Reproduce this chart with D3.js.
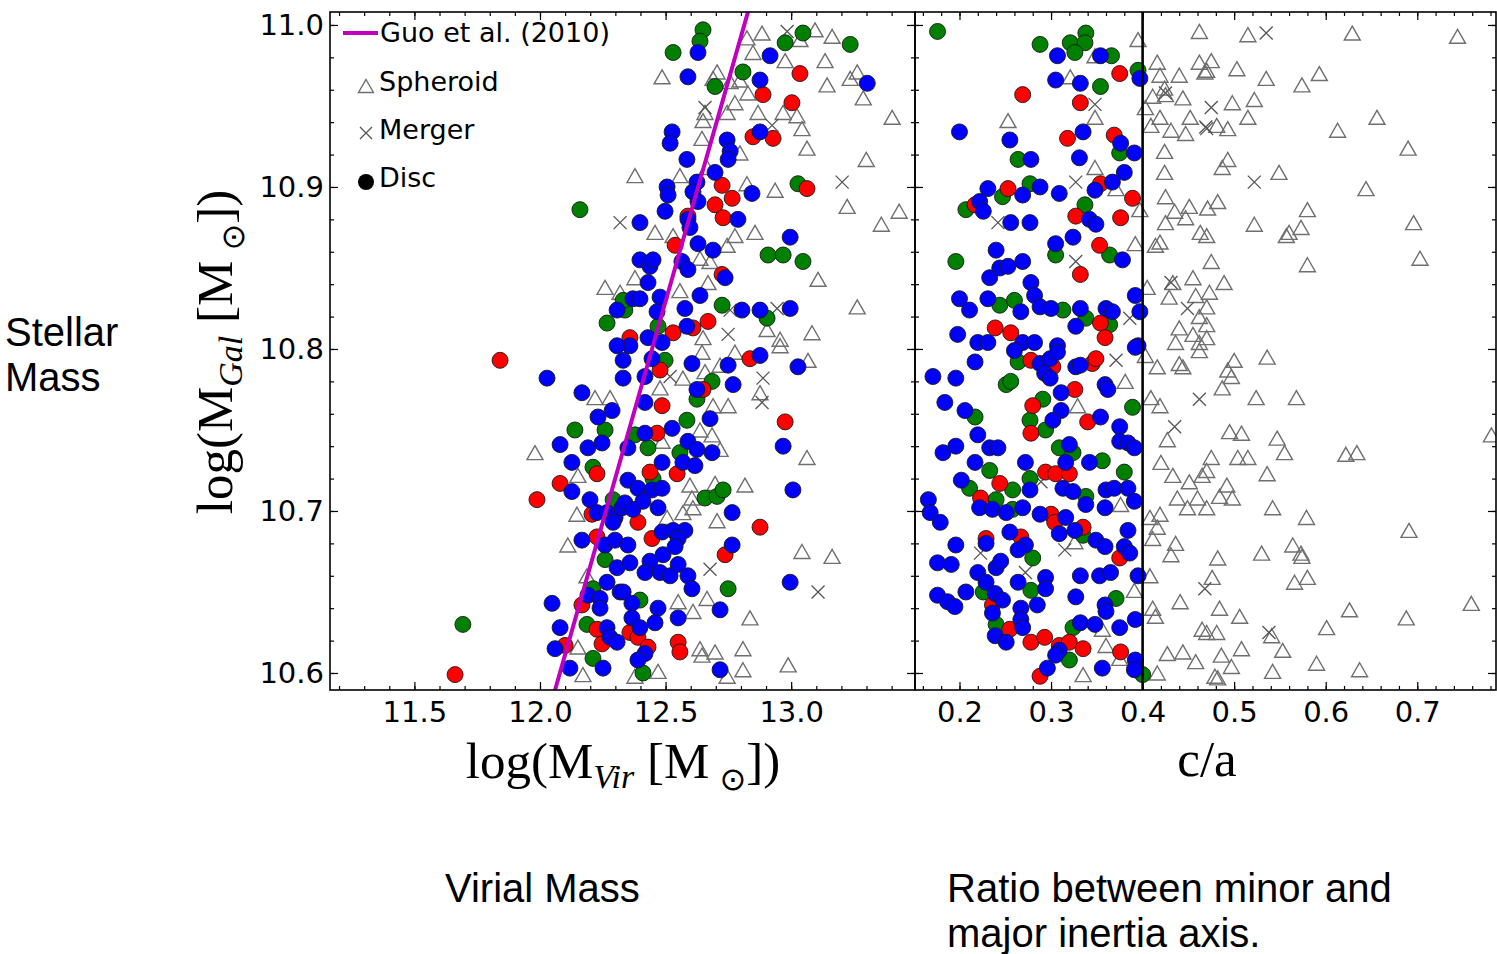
<!DOCTYPE html>
<html>
<head>
<meta charset="utf-8">
<script src="https://cdn.jsdelivr.net/npm/d3@7"></script>
<style>
  html, body { margin: 0; padding: 0; background: #fff; }
  svg { display: block; }
  .tick text { font-family: "DejaVu Sans", sans-serif; font-size: 29px; fill: #000; }
  .tick line { stroke: #000; stroke-width: 1.2; }
</style>
</head>
<body>
<svg id="chart" width="1497" height="954"></svg>
<script>
// ---------------- data ----------------
// tick labels
const mvirTicks = [11.5, 12.0, 12.5, 13.0];
const caTicks = [0.2, 0.3, 0.4, 0.5, 0.6, 0.7];
const mgalTicks = [10.6, 10.7, 10.8, 10.9, 11.0];
// disc / spheroid threshold in c/a
const caCut = 0.4;
// Guo et al. (2010) relation, log Mvir -> log Mgal
const guoMvir = [12.04, 12.446, 12.85];
const guoMgal = [10.5786, 10.80, 11.020];

// left panel: [log Mvir, log Mgal]
const virDiscGreen = [[12.649,10.997],[12.637,10.990],[12.530,10.983],[13.047,10.995],[12.976,10.989],[13.235,10.988],[12.808,10.971],[12.697,10.962],[13.027,10.902],[12.908,10.858],[12.968,10.858],[13.047,10.854],[12.725,10.827],[12.904,10.819],[12.470,10.814],[12.338,10.824],[12.159,10.886],[12.331,10.830],[12.267,10.816],[12.139,10.750],[12.259,10.750],[12.211,10.727],[12.291,10.707],[12.259,10.670],[12.211,10.652],[12.187,10.630],[11.693,10.630],[12.211,10.609],[12.498,10.793],[12.685,10.780],[12.625,10.769],[12.585,10.756],[12.378,10.747],[12.430,10.739],[12.557,10.736],[12.450,10.720],[12.657,10.708],[12.705,10.709],[12.729,10.713],[12.749,10.652],[12.398,10.645],[12.410,10.600]];
const virDiscRed = [[13.035,10.970],[12.888,10.957],[13.003,10.952],[12.848,10.931],[12.928,10.930],[13.063,10.899],[12.725,10.901],[12.765,10.893],[12.697,10.889],[12.729,10.881],[12.589,10.882],[12.538,10.864],[12.725,10.846],[12.669,10.817],[12.530,10.810],[12.609,10.813],[12.358,10.807],[11.841,10.793],[12.227,10.723],[12.080,10.717],[11.988,10.707],[12.207,10.698],[12.227,10.684],[12.167,10.642],[12.227,10.627],[12.247,10.618],[12.100,10.617],[11.662,10.599],[12.836,10.794],[12.478,10.787],[12.649,10.775],[12.486,10.765],[12.976,10.755],[12.466,10.748],[12.438,10.724],[12.546,10.723],[12.390,10.693],[12.446,10.683],[12.876,10.690],[12.737,10.673],[12.358,10.625],[12.390,10.622],[12.430,10.616],[12.550,10.619],[12.557,10.613]];
const virDiscBlue = [[12.629,10.983],[12.589,10.968],[12.916,10.981],[12.876,10.966],[13.303,10.964],[12.526,10.934],[12.518,10.927],[12.745,10.929],[12.757,10.922],[12.749,10.917],[12.876,10.934],[12.585,10.917],[12.697,10.909],[12.506,10.900],[12.510,10.895],[12.625,10.903],[12.609,10.897],[12.629,10.891],[12.844,10.896],[12.498,10.885],[12.398,10.878],[12.589,10.880],[12.597,10.875],[12.788,10.880],[12.996,10.869],[12.629,10.865],[12.689,10.861],[12.398,10.855],[12.438,10.851],[12.450,10.855],[12.565,10.854],[12.589,10.849],[12.737,10.844],[12.430,10.841],[12.637,10.833],[12.370,10.831],[12.398,10.831],[12.478,10.832],[12.466,10.823],[12.577,10.825],[12.804,10.824],[12.876,10.824],[12.996,10.825],[12.585,10.814],[12.486,10.804],[12.430,10.807],[12.358,10.802],[12.307,10.824],[12.307,10.802],[12.331,10.793],
  [12.028,10.782],[12.167,10.773],[12.287,10.762],[12.231,10.758],[12.080,10.741],[12.191,10.739],[12.247,10.742],[12.127,10.730],[12.127,10.712],[12.199,10.707],[12.227,10.699],[12.267,10.699],[12.299,10.696],[12.327,10.702],[12.291,10.693],[12.167,10.682],[12.259,10.679],[12.299,10.682],[12.307,10.665],[12.267,10.656],[12.319,10.650],[12.191,10.648],[12.239,10.646],[12.239,10.640],[12.048,10.643],[12.267,10.628],[12.279,10.622],[12.307,10.619],[12.080,10.628],[12.060,10.615],[12.119,10.603],[12.251,10.603],
  [12.876,10.796],[13.027,10.789],[12.749,10.790],[12.769,10.778],[12.605,10.791],[12.446,10.794],[12.331,10.782],[12.418,10.783],[12.625,10.775],[12.418,10.767],[12.968,10.740],[12.677,10.757],[12.526,10.751],[12.418,10.748],[12.350,10.739],[12.589,10.743],[12.625,10.738],[12.685,10.736],[12.486,10.730],[12.569,10.730],[12.617,10.728],[12.350,10.719],[12.390,10.714],[12.446,10.713],[12.486,10.714],[12.338,10.705],[12.370,10.701],[12.410,10.706],[12.470,10.702],[12.765,10.699],[13.007,10.713],[12.486,10.687],[12.530,10.688],[12.577,10.688],[12.550,10.683],[12.350,10.679],[12.490,10.673],[12.538,10.678],[12.765,10.679],[12.358,10.668],[12.438,10.669],[12.478,10.662],[12.418,10.662],[12.518,10.660],[12.550,10.667],[12.589,10.660],[12.605,10.652],[12.996,10.656],[12.331,10.650],[12.366,10.643],[12.470,10.640],[12.550,10.634],[12.717,10.639],[12.366,10.634],[12.398,10.628],[12.458,10.631],[12.418,10.612],[12.390,10.608],[12.717,10.602]];
const virSpheroid = [[12.884,10.995],[12.824,10.992],[13.095,10.997],[13.163,10.993],[13.035,10.991],[12.848,10.983],[12.976,10.978],[13.135,10.978],[12.486,10.968],[12.705,10.971],[12.689,10.967],[12.757,10.965],[12.796,10.966],[13.235,10.967],[13.263,10.971],[13.143,10.963],[13.287,10.955],[12.828,10.958],[12.776,10.952],[12.745,10.946],[12.657,10.946],[12.649,10.941],[12.868,10.946],[12.968,10.946],[13.023,10.944],[13.043,10.936],[13.063,10.924],[13.402,10.943],[13.299,10.917],[12.645,10.930],[12.796,10.921],[12.378,10.907],[12.557,10.907],[12.665,10.912],[12.936,10.898],[12.824,10.902],[13.223,10.888],[13.430,10.885],[13.359,10.877],[12.458,10.872],[12.530,10.870],[12.856,10.872],[12.776,10.870],[12.745,10.864],[12.637,10.856],[12.677,10.854],[13.107,10.843],[12.378,10.844],[12.557,10.836],[12.669,10.841],[13.263,10.826],[13.083,10.810],[12.956,10.806],[12.904,10.812],[12.649,10.807],
  [12.259,10.838],[12.319,10.835],[12.219,10.770],[12.279,10.770],[11.980,10.736],[12.151,10.722],[12.147,10.698],[12.111,10.679],[12.187,10.660],[12.151,10.616],[12.171,10.599],
  [12.956,10.802],[13.067,10.793],[12.776,10.798],[12.645,10.798],[12.717,10.790],[12.657,10.786],[12.569,10.782],[12.478,10.776],[12.876,10.773],[12.689,10.765],[12.749,10.765],[13.063,10.733],[12.486,10.743],[12.637,10.750],[12.717,10.738],[12.685,10.747],[12.597,10.716],[12.605,10.708],[12.609,10.702],[12.697,10.717],[12.816,10.716],[12.705,10.694],[12.506,10.696],[12.569,10.699],[13.043,10.675],[13.163,10.672],[12.550,10.644],[12.665,10.646],[12.609,10.638],[12.836,10.634],[12.637,10.615],[12.697,10.613],[12.645,10.611],[12.808,10.615],[12.470,10.601],[12.808,10.602],[12.988,10.605],[12.378,10.598],[12.745,10.598]];
const virMerger = [[12.984,10.996],[12.657,10.949],[12.924,10.938],[13.203,10.903],[12.319,10.878],[12.944,10.825],[12.757,10.824],[12.749,10.809],[12.518,10.783],[12.888,10.782],[12.884,10.767],[12.677,10.664],[13.107,10.650]];

// right panel: [c/a, log Mgal]
const caDiscGreen = [[0.176,10.996],[0.288,10.988],[0.321,10.989],[0.338,10.995],[0.337,10.989],[0.326,10.983],[0.366,10.981],[0.395,10.972],[0.354,10.962],[0.375,10.921],[0.264,10.917],[0.277,10.902],[0.247,10.894],[0.207,10.886],[0.337,10.889],[0.196,10.854],[0.305,10.858],[0.364,10.858],[0.244,10.827],[0.260,10.830],[0.313,10.824],[0.338,10.819],[0.364,10.815],
  [0.264,10.792],[0.251,10.778],[0.256,10.780],[0.217,10.758],[0.291,10.769],[0.389,10.764],[0.277,10.756],[0.294,10.750],[0.309,10.739],[0.324,10.736],[0.356,10.731],[0.233,10.725],[0.380,10.724],[0.211,10.714],[0.258,10.713],[0.277,10.720],[0.338,10.709],[0.240,10.707],[0.258,10.701],[0.335,10.685],[0.280,10.671],[0.278,10.651],[0.226,10.650],[0.371,10.646],[0.240,10.630],[0.324,10.628],[0.320,10.608],[0.400,10.599]];
const caDiscRed = [[0.375,10.970],[0.269,10.957],[0.332,10.952],[0.318,10.930],[0.369,10.932],[0.354,10.902],[0.253,10.899],[0.389,10.893],[0.217,10.889],[0.327,10.882],[0.376,10.881],[0.353,10.864],[0.332,10.846],[0.354,10.816],[0.359,10.807],[0.239,10.813],[0.256,10.810],
  [0.278,10.793],[0.302,10.789],[0.345,10.791],[0.349,10.794],[0.326,10.775],[0.280,10.765],[0.340,10.755],[0.278,10.748],[0.294,10.724],[0.305,10.723],[0.320,10.723],[0.244,10.717],[0.223,10.708],[0.300,10.698],[0.304,10.693],[0.335,10.690],[0.267,10.684],[0.229,10.683],[0.375,10.671],[0.236,10.642],[0.255,10.627],[0.278,10.619],[0.293,10.622],[0.309,10.617],[0.320,10.619],[0.335,10.615],[0.376,10.613],[0.288,10.598]];
const caDiscBlue = [[0.307,10.981],[0.354,10.981],[0.397,10.967],[0.305,10.966],[0.332,10.964],[0.200,10.934],[0.255,10.929],[0.335,10.934],[0.376,10.927],[0.391,10.921],[0.278,10.917],[0.331,10.918],[0.380,10.909],[0.367,10.903],[0.231,10.899],[0.269,10.895],[0.288,10.900],[0.309,10.896],[0.348,10.898],[0.222,10.891],[0.226,10.885],[0.256,10.878],[0.277,10.878],[0.342,10.880],[0.349,10.877],[0.240,10.861],[0.233,10.844],[0.244,10.850],[0.253,10.851],[0.269,10.854],[0.305,10.865],[0.324,10.869],[0.378,10.855],[0.278,10.841],[0.282,10.833],[0.200,10.831],[0.211,10.824],[0.231,10.831],[0.267,10.823],[0.288,10.826],[0.300,10.825],[0.332,10.825],[0.360,10.825],[0.367,10.823],[0.392,10.833],[0.397,10.823],[0.327,10.814],[0.198,10.809],[0.220,10.804],[0.231,10.804],[0.269,10.804],[0.282,10.804],[0.307,10.802],[0.395,10.802],
  [0.171,10.783],[0.196,10.782],[0.217,10.792],[0.260,10.799],[0.288,10.791],[0.299,10.794],[0.307,10.798],[0.327,10.789],[0.332,10.790],[0.392,10.801],[0.293,10.785],[0.299,10.782],[0.311,10.773],[0.359,10.778],[0.362,10.775],[0.184,10.767],[0.206,10.762],[0.311,10.762],[0.302,10.756],[0.354,10.758],[0.375,10.752],[0.375,10.743],[0.384,10.742],[0.391,10.739],[0.220,10.747],[0.182,10.736],[0.196,10.740],[0.233,10.739],[0.242,10.739],[0.320,10.741],[0.272,10.730],[0.316,10.730],[0.342,10.730],[0.217,10.730],[0.202,10.719],[0.277,10.713],[0.313,10.714],[0.324,10.712],[0.338,10.704],[0.360,10.713],[0.369,10.714],[0.384,10.714],[0.391,10.706],[0.166,10.707],[0.168,10.699],[0.179,10.693],[0.222,10.702],[0.236,10.701],[0.251,10.699],[0.269,10.702],[0.288,10.698],[0.316,10.696],[0.359,10.702],
  [0.309,10.686],[0.326,10.688],[0.349,10.682],[0.359,10.678],[0.384,10.688],[0.255,10.687],[0.272,10.679],[0.264,10.676],[0.229,10.680],[0.196,10.679],[0.380,10.678],[0.386,10.674],[0.176,10.668],[0.191,10.667],[0.240,10.665],[0.245,10.669],[0.220,10.662],[0.229,10.656],[0.264,10.656],[0.294,10.659],[0.294,10.652],[0.332,10.660],[0.353,10.660],[0.365,10.662],[0.395,10.660],[0.176,10.648],[0.187,10.644],[0.195,10.641],[0.207,10.650],[0.239,10.649],[0.247,10.645],[0.236,10.637],[0.267,10.640],[0.285,10.642],[0.327,10.647],[0.359,10.642],[0.360,10.638],[0.267,10.633],[0.269,10.628],[0.239,10.623],[0.251,10.619],[0.332,10.631],[0.348,10.630],[0.375,10.628],[0.392,10.633],[0.309,10.614],[0.305,10.611],[0.392,10.608],[0.391,10.602],[0.296,10.603],[0.356,10.603]];
const caSpheroid = [[0.348,10.981],[0.395,10.991],[0.321,10.968],[0.348,10.943],[0.253,10.941],[0.348,10.912],[0.371,10.899],[0.397,10.886],[0.392,10.865],[0.381,10.780],[0.329,10.765],[0.376,10.704],[0.326,10.681],[0.391,10.651],[0.356,10.627],[0.360,10.617],[0.375,10.609],[0.335,10.599],
  [0.416,10.977],[0.419,10.969],[0.440,10.969],[0.424,10.961],[0.411,10.956],[0.425,10.957],[0.444,10.955],[0.403,10.949],[0.419,10.943],[0.431,10.935],[0.447,10.933],[0.452,10.943],[0.409,10.938],[0.462,10.977],[0.462,10.996],[0.468,10.971],[0.424,10.922],[0.424,10.909],[0.425,10.894],[0.435,10.885],[0.425,10.878],[0.447,10.881],[0.451,10.888],[0.463,10.872],[0.414,10.864],[0.419,10.866],[0.405,10.838],[0.433,10.841],[0.455,10.844],[0.429,10.832],[0.458,10.833],[0.462,10.820],[0.440,10.813],[0.455,10.809],[0.436,10.804],[0.462,10.804],
  [0.515,10.994],[0.629,10.995],[0.744,10.993],[0.475,10.978],[0.470,10.972],[0.503,10.973],[0.535,10.967],[0.574,10.963],[0.593,10.970],[0.498,10.952],[0.522,10.954],[0.515,10.943],[0.481,10.938],[0.493,10.936],[0.656,10.943],[0.613,10.935],[0.690,10.924],[0.493,10.917],[0.487,10.912],[0.549,10.909],[0.644,10.899],[0.482,10.891],[0.471,10.887],[0.580,10.886],[0.522,10.877],[0.573,10.875],[0.557,10.870],[0.560,10.872],[0.696,10.878],[0.470,10.870],[0.475,10.854],[0.580,10.852],[0.703,10.856],[0.489,10.841],[0.473,10.835],[0.470,10.826],[0.470,10.815],[0.470,10.807],
  [0.403,10.796],[0.416,10.789],[0.440,10.791],[0.444,10.789],[0.462,10.799],[0.409,10.770],[0.419,10.765],[0.427,10.744],[0.420,10.730],[0.433,10.722],[0.451,10.718],[0.465,10.722],[0.438,10.708],[0.449,10.702],[0.460,10.708],[0.408,10.696],[0.419,10.698],[0.416,10.690],[0.411,10.683],[0.431,10.673],[0.436,10.680],[0.408,10.660],[0.441,10.644],[0.411,10.640],[0.414,10.635],[0.465,10.627],[0.427,10.612],[0.444,10.613],[0.458,10.607],[0.416,10.600],
  [0.500,10.793],[0.536,10.795],[0.493,10.787],[0.497,10.783],[0.487,10.776],[0.524,10.770],[0.568,10.770],[0.495,10.749],[0.508,10.748],[0.547,10.745],[0.555,10.736],[0.475,10.733],[0.504,10.733],[0.515,10.733],[0.622,10.735],[0.634,10.736],[0.781,10.747],[0.470,10.725],[0.536,10.723],[0.492,10.716],[0.484,10.709],[0.498,10.708],[0.470,10.702],[0.542,10.702],[0.579,10.696],[0.691,10.688],[0.482,10.671],[0.530,10.674],[0.564,10.679],[0.573,10.674],[0.574,10.672],[0.476,10.659],[0.566,10.656],[0.580,10.659],[0.484,10.640],[0.506,10.635],[0.626,10.639],[0.688,10.634],[0.759,10.643],[0.470,10.625],[0.481,10.625],[0.541,10.623],[0.601,10.628],[0.486,10.611],[0.508,10.615],[0.553,10.614],[0.497,10.604],[0.590,10.606],[0.479,10.598],[0.482,10.597],[0.542,10.601],[0.637,10.602]];
const caMerger = [[0.348,10.951],[0.327,10.903],[0.242,10.878],[0.327,10.854],[0.386,10.819],[0.371,10.793],[0.289,10.718],[0.315,10.676],[0.223,10.674],[0.272,10.662],[0.535,10.995],[0.475,10.949],[0.470,10.936],[0.522,10.903],[0.425,10.958],[0.469,10.937],[0.431,10.841],[0.449,10.825],[0.462,10.769],[0.435,10.752],[0.468,10.652],[0.538,10.625]];

// ---------------- layout ----------------
const W = 1497, H = 954;
const plotTop = 12, plotBottom = 690;
const leftX0 = 330, midX = 915, rightX1 = 1496;
const colBlue = "#0000ff", colRed = "#ff0000", colGreen = "#008000", colGuo = "#bf00bf";

const svg = d3.select("#chart");
svg.append("rect").attr("width", W).attr("height", H).attr("fill", "#fff");

const y = d3.scaleLinear().domain([10.5895, 11.008]).range([plotBottom, plotTop]);
const xVir = d3.scaleLinear().domain([11.164, 13.493]).range([leftX0, midX]);
const xCa = d3.scaleLinear().domain([0.1514, 0.786]).range([midX, rightX1]);

const defs = svg.append("defs");
defs.append("clipPath").attr("id", "clipL").append("rect")
  .attr("x", leftX0).attr("y", plotTop).attr("width", midX - leftX0).attr("height", plotBottom - plotTop);
defs.append("clipPath").attr("id", "clipR").append("rect")
  .attr("x", midX).attr("y", plotTop).attr("width", rightX1 - midX).attr("height", plotBottom - plotTop);

const triPath = "M0,-7L8,7L-8,7Z";
const crossPath = "M-6.5,-6.5L6.5,6.5M-6.5,6.5L6.5,-6.5";

function drawPoints(g, xs, spheroid, merger, green, red, blue) {
  g.selectAll("path.sph").data(spheroid).join("path").attr("class", "sph")
    .attr("transform", d => `translate(${xs(d[0])},${y(d[1])})`)
    .attr("d", triPath).attr("fill", "none").attr("stroke", "#6f6f6f").attr("stroke-width", 1.4);
  g.selectAll("path.mrg").data(merger).join("path").attr("class", "mrg")
    .attr("transform", d => `translate(${xs(d[0])},${y(d[1])})`)
    .attr("d", crossPath).attr("fill", "none").attr("stroke", "#555").attr("stroke-width", 1.3);
  [[green, colGreen], [red, colRed], [blue, colBlue]].forEach(([arr, c], i) => {
    g.selectAll("circle.d" + i).data(arr).join("circle").attr("class", "d" + i)
      .attr("cx", d => xs(d[0])).attr("cy", d => y(d[1])).attr("r", 8)
      .attr("fill", c).attr("stroke", "#1a1a1a").attr("stroke-width", 0.9);
  });
}

// left panel
const gL = svg.append("g").attr("clip-path", "url(#clipL)");
drawPoints(gL, xVir, virSpheroid, virMerger, virDiscGreen, virDiscRed, virDiscBlue);
gL.append("path")
  .datum(guoMvir.map((m, i) => [m, guoMgal[i]]))
  .attr("d", d3.line().x(d => xVir(d[0])).y(d => y(d[1])))
  .attr("fill", "none").attr("stroke", colGuo).attr("stroke-width", 4);

// right panel
const gR = svg.append("g").attr("clip-path", "url(#clipR)");
drawPoints(gR, xCa, caSpheroid, caMerger, caDiscGreen, caDiscRed, caDiscBlue);
gR.append("line")
  .attr("x1", xCa(caCut)).attr("x2", xCa(caCut)).attr("y1", plotTop).attr("y2", plotBottom)
  .attr("stroke", "#000").attr("stroke-width", 2.6);

// ---------------- axes ----------------
const fmt = d3.format(".1f");
function noDomain(g) { g.select(".domain").remove(); }
const yMinor = d3.range(530, 551).map(v => v / 50);
const virMinor = d3.range(112, 135).map(v => v / 10);
const caMinor = d3.range(8, 40).map(v => v / 50);

function xAxes(xs, majors, minors) {
  svg.append("g").attr("transform", `translate(0,${plotBottom})`)
    .call(d3.axisBottom(xs).tickValues(majors).tickSize(-8).tickPadding(11).tickFormat(fmt)).call(noDomain);
  svg.append("g").attr("transform", `translate(0,${plotBottom})`)
    .call(d3.axisBottom(xs).tickValues(minors).tickSize(-4).tickFormat("")).call(noDomain);
  svg.append("g").attr("transform", `translate(0,${plotTop})`)
    .call(d3.axisTop(xs).tickValues(majors).tickSize(-8).tickFormat("")).call(noDomain);
  svg.append("g").attr("transform", `translate(0,${plotTop})`)
    .call(d3.axisTop(xs).tickValues(minors).tickSize(-4).tickFormat("")).call(noDomain);
}
xAxes(xVir, mvirTicks, virMinor);
xAxes(xCa, caTicks, caMinor);

function yAxis(x, gen, labels) {
  svg.append("g").attr("transform", `translate(${x},0)`)
    .call(gen(y).tickValues(mgalTicks).tickSize(-8).tickPadding(6).tickFormat(labels ? fmt : "")).call(noDomain);
  svg.append("g").attr("transform", `translate(${x},0)`)
    .call(gen(y).tickValues(yMinor).tickSize(-4).tickFormat("")).call(noDomain);
}
yAxis(leftX0, d3.axisLeft, true);
yAxis(midX, d3.axisRight, false);
yAxis(midX, d3.axisLeft, false);
yAxis(rightX1, d3.axisRight, false);

// frames
[[leftX0, midX], [midX, rightX1]].forEach(([a, b]) => {
  svg.append("rect").attr("x", a).attr("y", plotTop).attr("width", b - a).attr("height", plotBottom - plotTop)
    .attr("fill", "none").attr("stroke", "#000").attr("stroke-width", 1.6);
});

// ---------------- legend ----------------
const lg = svg.append("g").attr("font-family", "DejaVu Sans, sans-serif").attr("font-size", 27);
lg.append("line").attr("x1", 343).attr("x2", 378).attr("y1", 33).attr("y2", 33)
  .attr("stroke", colGuo).attr("stroke-width", 4);
lg.append("text").attr("x", 380).attr("y", 33).attr("dy", "0.35em").text("Guo et al. (2010)");
lg.append("path").attr("transform", "translate(366,86)").attr("d", "M0,-6.5L7.5,6.5L-7.5,6.5Z")
  .attr("fill", "none").attr("stroke", "#6f6f6f").attr("stroke-width", 1.4);
lg.append("text").attr("x", 379).attr("y", 82).attr("dy", "0.35em").text("Spheroid");
lg.append("path").attr("transform", "translate(366,133)").attr("d", "M-6,-6L6,6M-6,6L6,-6")
  .attr("fill", "none").attr("stroke", "#555").attr("stroke-width", 1.3);
lg.append("text").attr("x", 379).attr("y", 130).attr("dy", "0.35em").text("Merger");
lg.append("circle").attr("cx", 366).attr("cy", 182).attr("r", 8).attr("fill", "#000");
lg.append("text").attr("x", 379).attr("y", 178).attr("dy", "0.35em").text("Disc");

// ---------------- axis titles ----------------
const serif = "Liberation Serif, DejaVu Serif, serif";
const tx = svg.append("text").attr("x", 623).attr("y", 778).attr("text-anchor", "middle")
  .attr("font-family", serif).attr("font-size", 51).attr("fill", "#000");
tx.append("tspan").text("log(M");
tx.append("tspan").attr("font-style", "italic").attr("font-size", 34).attr("dy", 10).text("Vir");
tx.append("tspan").attr("dy", -10).text(" [M");
tx.append("tspan").attr("font-size", 32).attr("dy", 12).attr("font-family", "DejaVu Sans").text(" \u2299");
tx.append("tspan").attr("dy", -12).text("])");

svg.append("text").attr("x", 1207).attr("y", 776).attr("text-anchor", "middle")
  .attr("font-family", serif).attr("font-size", 51).attr("fill", "#000").text("c/a");

const ty = svg.append("text").attr("transform", "translate(232,352) rotate(-90)").attr("text-anchor", "middle")
  .attr("font-family", serif).attr("font-size", 51).attr("fill", "#000");
ty.append("tspan").text("log(M");
ty.append("tspan").attr("font-style", "italic").attr("font-size", 34).attr("dy", 10).text("Gal");
ty.append("tspan").attr("dy", -10).text(" [M");
ty.append("tspan").attr("font-size", 32).attr("dy", 12).attr("font-family", "DejaVu Sans").text(" \u2299");
ty.append("tspan").attr("dy", -12).text("])");

// ---------------- captions ----------------
const cap = svg.append("g").attr("font-family", "Liberation Sans, Arial, sans-serif").attr("font-size", 40).attr("fill", "#000");
cap.append("text").attr("x", 5).attr("y", 346).text("Stellar");
cap.append("text").attr("x", 5).attr("y", 391).text("Mass");
cap.append("text").attr("x", 445).attr("y", 902).text("Virial Mass");
cap.append("text").attr("x", 947).attr("y", 902).text("Ratio between minor and");
cap.append("text").attr("x", 947).attr("y", 947).text("major inertia axis.");
</script>
</body>
</html>
